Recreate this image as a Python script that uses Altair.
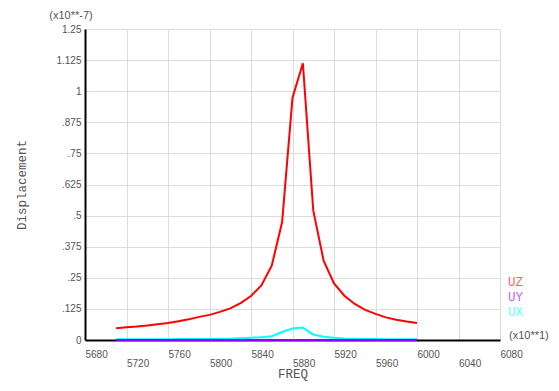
import altair as alt
import pandas as pd

freq = [5710, 5720, 5730, 5740, 5750, 5760, 5770, 5780, 5790, 5800,
        5810, 5820, 5830, 5840, 5850, 5860, 5870, 5880, 5890, 5900,
        5910, 5920, 5930, 5940, 5950, 5960, 5970, 5980, 5990, 6000]
uz = [0.047, 0.051, 0.054, 0.058, 0.063, 0.068, 0.075, 0.083, 0.093, 0.101,
      0.113, 0.127, 0.148, 0.177, 0.219, 0.299, 0.474, 0.974, 1.112, 0.521,
      0.319, 0.227, 0.178, 0.145, 0.121, 0.105, 0.091, 0.081, 0.074, 0.068]
ux = [0.003, 0.003, 0.003, 0.003, 0.003, 0.003, 0.004, 0.004, 0.004, 0.004,
      0.005, 0.005, 0.007, 0.009, 0.011, 0.015, 0.032, 0.046, 0.050, 0.022,
      0.013, 0.009, 0.006, 0.005, 0.004, 0.004, 0.003, 0.003, 0.003, 0.003]
uy = [0.0] * len(freq)

colors = {"UZ": "#ff0000", "UX": "#00ffff", "UY": "#9000ff"}
legend_colors = {"UZ": "#ff6464", "UY": "#b864ff", "UX": "#64ffff"}

x_ticks = [5680, 5720, 5760, 5800, 5840, 5880, 5920, 5960, 6000, 6040, 6080]
y_ticks = [0, 0.125, 0.25, 0.375, 0.5, 0.625, 0.75, 0.875, 1, 1.125, 1.25]

xscale = alt.Scale(domain=[5680, 6080], nice=False, zero=False)
yscale = alt.Scale(domain=[0, 1.25], nice=False)

xaxis = alt.Axis(
    values=x_ticks, format="d", grid=True, gridColor="#dcdcdc", gridWidth=1,
    ticks=False, domainColor="#000000", domainWidth=2,
    labelAlign="left", labelFont="Liberation Sans", labelFontSize=10,
    labelColor="#555555",
    labelPadding={"condition": {"test": "(datum.value - 5680) % 80 == 0", "value": 9}, "value": 18.5},
    labelFlush=False, labelOverlap=False,
    title="FREQ", titleFont="Liberation Mono", titleFontSize=12.5,
    titleFontWeight="normal", titleColor="#555555",
    titleY=33, titleBaseline="middle", titleAlign="center",
)
yaxis = alt.Axis(
    values=y_ticks, grid=True, gridColor="#dcdcdc", gridWidth=1,
    ticks=False, domainColor="#000000", domainWidth=2,
    labelFont="Liberation Sans", labelFontSize=10, labelColor="#555555",
    labelPadding=4, labelFlush=False, labelOverlap=False,
    labelExpr="datum.value == 0 ? '0' : (datum.value < 1 ? substring(format(datum.value, '.3~f'), 1) : format(datum.value, '.3~f'))",
    title="Displacement", titleFont="Liberation Mono", titleFontSize=12.5,
    titleFontWeight="normal", titleColor="#555555",
    titleX=-64, titleY=155.5, titleBaseline="middle", titleAlign="center", titleAngle=-90,
)


def line_layer(name, vals):
    d = pd.DataFrame({"FREQ": freq, "value": vals})
    return alt.Chart(d).mark_line(strokeWidth=2, color=colors[name]).encode(
        x=alt.X("FREQ:Q", scale=xscale, axis=xaxis),
        y=alt.Y("value:Q", scale=yscale, axis=yaxis),
    )


lines = [line_layer("UZ", uz), line_layer("UX", ux), line_layer("UY", uy)]

legend_names = ["UZ", "UY", "UX"]
legend_y = [253, 268, 283]
legend_layers = []
for name, yy in zip(legend_names, legend_y):
    legend_layers.append(
        alt.Chart(pd.DataFrame({"t": [name]})).mark_text(
            align="left", baseline="middle", font="Liberation Mono", fontSize=12.5,
            color=legend_colors[name]
        ).encode(text="t:N", x=alt.value(423), y=alt.value(yy))
    )

yunit = alt.Chart(pd.DataFrame({"t": ["(x10**-7)"]})).mark_text(
    align="center", baseline="middle", font="Liberation Sans", fontSize=11, color="#555555"
).encode(text="t:N", x=alt.value(-14), y=alt.value(-13))

xunit = alt.Chart(pd.DataFrame({"t": ["(x10**1)"]})).mark_text(
    align="left", baseline="middle", font="Liberation Sans", fontSize=11, color="#555555"
).encode(text="t:N", x=alt.value(424), y=alt.value(307))

chart = alt.layer(*lines, *legend_layers, yunit, xunit).properties(
    width=415, height=311,
    autosize=alt.AutoSizeParams(type="none"),
    padding={"left": 77, "top": 21, "right": 51, "bottom": 43},
    background="#ffffff",
).configure_view(strokeWidth=0)

chart.save("out.html", embed_options={"renderer": "svg", "actions": False})
